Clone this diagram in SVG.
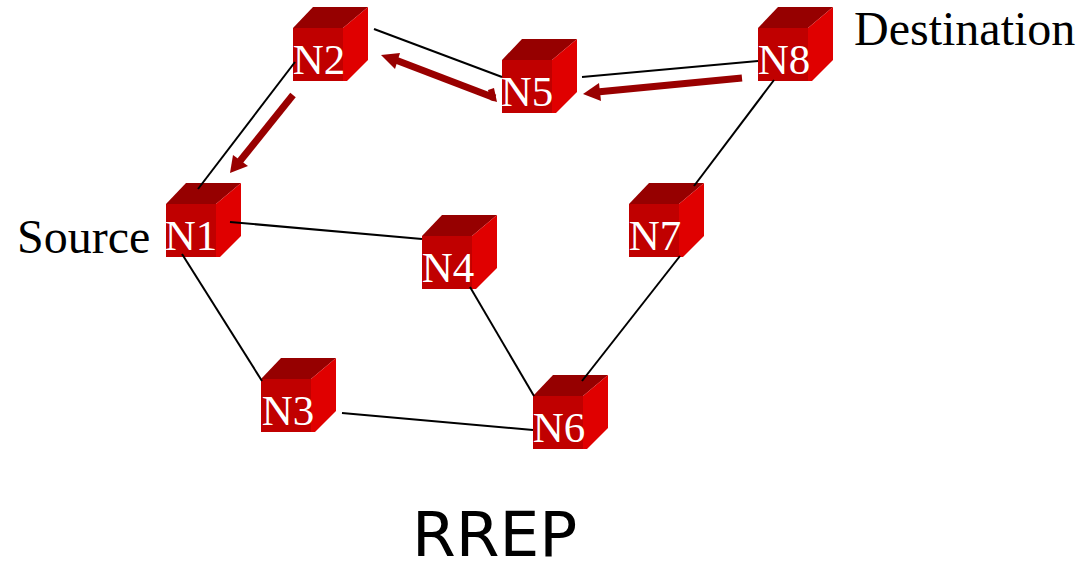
<svg xmlns="http://www.w3.org/2000/svg" width="1078" height="561" viewBox="0 0 1078 561">
<style>
.l{stroke:#000;stroke-width:2;fill:none}
.a{stroke:#990000;stroke-width:7;fill:none}
.h{fill:#990000}
.t{fill:#960000}.f{fill:#c00000}.s{fill:#e00000}
.n{font-family:"Liberation Serif",serif;font-size:43px;fill:#fff;text-anchor:middle}
.x{font-family:"Liberation Serif",serif;font-size:48px;fill:#000}
</style>
<defs>
<g id="cube">
<path class="t" d="M0 0L20-21H75L50 0Z"/>
<path class="s" d="M50 0L75-21V32L54 53H50Z"/>
<path class="f" d="M0 0H50V53H0Z"/>
</g>
</defs>
<g id="N1"><use href="#cube" x="166" y="204"/><text class="n" x="191" y="250">N1</text></g>
<g id="N2"><use href="#cube" x="293" y="28"/><text class="n" x="319" y="74">N2</text></g>
<g id="N3"><use href="#cube" x="261" y="379"/><text class="n" x="288" y="425">N3</text></g>
<g id="N4"><use href="#cube" x="422" y="236"/><text class="n" x="448" y="282">N4</text></g>
<g id="N5"><use href="#cube" x="502" y="60"/><text class="n" x="527" y="106">N5</text></g>
<g id="N6"><use href="#cube" x="533" y="396"/><text class="n" x="559" y="442">N6</text></g>
<g id="N7"><use href="#cube" x="629" y="204"/><text class="n" x="655" y="250">N7</text></g>
<g id="N8"><use href="#cube" x="758" y="28"/><text class="n" x="784" y="74">N8</text></g>
<g id="connectors">
<path class="l" d="M374 29L502 77"/>
<path class="l" d="M295 62L198 189"/>
<path class="l" d="M230 222L422 239"/>
<path class="l" d="M182 254L262 381"/>
<path class="l" d="M342 413L533 430"/>
<path class="l" d="M470 287L534 396"/>
<path class="l" d="M582 381L680 256"/>
<path class="l" d="M694 186L774 80"/>
<path class="l" d="M582 77L758 61"/>
<path class="a" d="M293 95L240 161"/>
<path class="h" d="M230 173L233 155L248 166Z"/>
<path class="a" d="M495 98L393 59"/>
<path class="h" d="M381 55L400 53L395 69Z"/>
<path class="h" d="M488 90L494 88L497 102L490 100Z"/>
<path class="a" d="M742 78L597 92"/>
<path class="h" d="M583 94L599 83L601 101Z"/>
</g>
<text class="x" x="854" y="45">Destination</text>
<text class="x" x="17" y="253">Source</text>
<text x="412" y="556" font-family="DejaVu Sans, sans-serif" font-size="63" fill="#000">RREP</text>
</svg>
